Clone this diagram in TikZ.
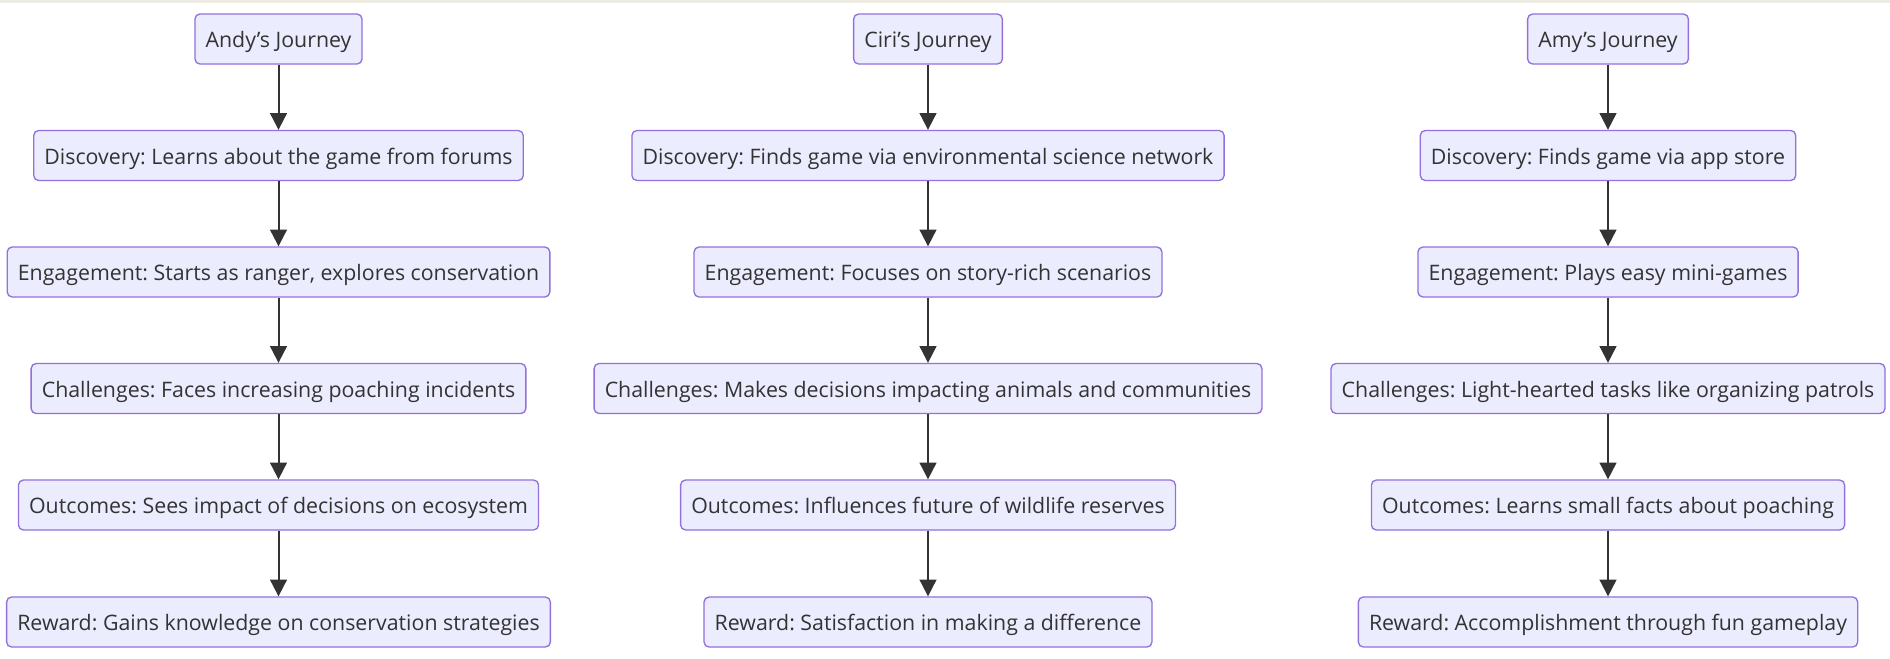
\documentclass[tikz,border=0pt]{standalone}
\usepackage{fontspec}
\setmainfont{Open Sans}
\usetikzlibrary{arrows.meta}
\definecolor{boxfill}{HTML}{ECECFF}
\definecolor{boxline}{HTML}{9370DB}
\definecolor{ink}{HTML}{333333}
\definecolor{topbar}{HTML}{EDEDE4}
\frenchspacing
\begin{document}
\begin{tikzpicture}[x=0.75pt,y=0.75pt,
  stage/.style={draw=boxline,fill=boxfill,line width=1pt,rounded corners=3.75pt,
    minimum height=37.5pt,inner xsep=8pt,inner ysep=0pt,text=ink,
    text height=15pt,text depth=1.6pt,
    font=\fontsize{16}{19}\selectfont},
  flow/.style={draw=ink,line width=1.5pt,-{Triangle[length=12.5pt,width=12.5pt]}}]
\fill[white] (0,0) rectangle (1890,-658);
\fill[topbar] (0,0) rectangle (1890,-3);
% Andy
\node[stage] (andy) at (278.5,-39) {Andy’s Journey};
\node[stage] (andydisc) at (278.5,-155.5) {Discovery: Learns about the game from forums};
\node[stage] (andyeng) at (278.5,-272) {Engagement: Starts as ranger, explores conservation};
\node[stage] (andychal) at (278.5,-388.5) {Challenges: Faces increasing poaching incidents};
\node[stage] (andyout) at (278.5,-505) {Outcomes: Sees impact of decisions on ecosystem};
\node[stage] (andyrew) at (278.5,-622) {Reward: Gains knowledge on conservation strategies};
% Ciri
\node[stage] (ciri) at (928,-39) {Ciri’s Journey};
\node[stage] (ciridisc) at (928,-155.5) {Discovery: Finds game via environmental science network};
\node[stage] (cirieng) at (928,-272) {Engagement: Focuses on story-rich scenarios};
\node[stage] (cirichal) at (928,-388.5) {Challenges: Makes decisions impacting animals and communities};
\node[stage] (ciriout) at (928,-505) {Outcomes: Influences future of wildlife reserves};
\node[stage] (cirirew) at (928,-622) {Reward: Satisfaction in making a difference};
% Amy
\node[stage] (amy) at (1608,-39) {Amy’s Journey};
\node[stage] (amydisc) at (1608,-155.5) {Discovery: Finds game via app store};
\node[stage] (amyeng) at (1608,-272) {Engagement: Plays easy mini-games};
\node[stage] (amychal) at (1608,-388.5) {Challenges: Light-hearted tasks like organizing patrols};
\node[stage] (amyout) at (1608,-505) {Outcomes: Learns small facts about poaching};
\node[stage] (amyrew) at (1608,-622) {Reward: Accomplishment through fun gameplay};
% arrows
\draw[flow] (andy) -- (andydisc);
\draw[flow] (andydisc) -- (andyeng);
\draw[flow] (andyeng) -- (andychal);
\draw[flow] (andychal) -- (andyout);
\draw[flow] (andyout) -- (andyrew);
\draw[flow] (ciri) -- (ciridisc);
\draw[flow] (ciridisc) -- (cirieng);
\draw[flow] (cirieng) -- (cirichal);
\draw[flow] (cirichal) -- (ciriout);
\draw[flow] (ciriout) -- (cirirew);
\draw[flow] (amy) -- (amydisc);
\draw[flow] (amydisc) -- (amyeng);
\draw[flow] (amyeng) -- (amychal);
\draw[flow] (amychal) -- (amyout);
\draw[flow] (amyout) -- (amyrew);
\end{tikzpicture}
\end{document}
